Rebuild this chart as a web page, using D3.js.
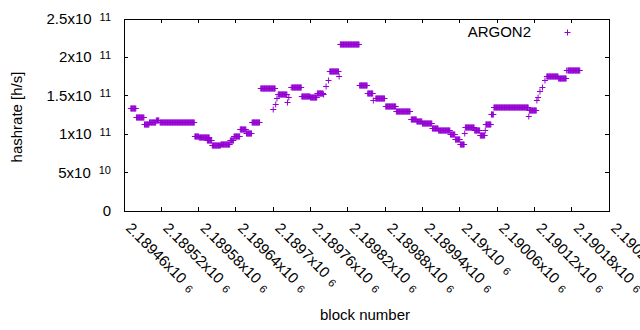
<!DOCTYPE html>
<html>
<head>
<meta charset="utf-8">
<script src="https://cdn.jsdelivr.net/npm/d3@7"></script>
<style>
  body { margin: 0; background: #fff; }
  svg { display: block; font-family: "Liberation Sans", Arial, sans-serif; }
</style>
</head>
<body>
<svg id="chart" width="640" height="330"></svg>
<script>
// runs of consecutive blocks sharing one hashrate value
let runStart = [
  2189471, 2189480, 2189493, 2189501, 2189512, 2189518, 2189574, 2189581, 2189594,
  2189602, 2189616, 2189631, 2189637, 2189647, 2189657, 2189666, 2189680, 2189700,
  2189704, 2189706, 2189708, 2189723, 2189725, 2189729, 2189731, 2189746, 2189760,
  2189771, 2189781, 2189785, 2189789, 2189791, 2189806, 2189808, 2189839, 2189852,
  2189861, 2189865, 2189881, 2189898, 2189922, 2189931, 2189940, 2189956, 2189966,
  2189985, 2189993, 2190001, 2190008, 2190009, 2190024, 2190033, 2190041, 2190042,
  2190051, 2190055, 2190111, 2190112, 2190124, 2190126, 2190129, 2190133, 2190137,
  2190140, 2190159, 2190172, 2190174
]
let runEnd = [
  2189479, 2189492, 2189500, 2189511, 2189516, 2189573, 2189580, 2189597, 2189601,
  2189615, 2189630, 2189636, 2189646, 2189656, 2189665, 2189678, 2189703, 2189700,
  2189704, 2189706, 2189722, 2189723, 2189725, 2189729, 2189745, 2189759, 2189770,
  2189780, 2189781, 2189785, 2189789, 2189805, 2189806, 2189838, 2189851, 2189860,
  2189861, 2189879, 2189897, 2189920, 2189930, 2189939, 2189955, 2189965, 2189984,
  2189992, 2190000, 2190007, 2190008, 2190023, 2190032, 2190040, 2190041, 2190050,
  2190054, 2190110, 2190111, 2190123, 2190124, 2190126, 2190129, 2190133, 2190137,
  2190158, 2190171, 2190172, 2190193
]
let runHashrate = [
  1.34e11, 1.22e11, 1.135e11, 1.155e11, 1.19e11, 1.16e11, 0.975e11, 0.96e11, 0.93e11,
  0.86e11, 0.875e11, 0.92e11, 0.98e11, 1.07e11, 1.01e11, 1.155e11, 1.6e11, 1.33e11,
  1.39e11, 1.47e11, 1.52e11, 1.42e11, 1.49e11, 1.61e11, 1.62e11, 1.50e11, 1.48e11,
  1.54e11, 1.52e11, 1.63e11, 1.71e11, 1.82e11, 1.76e11, 2.18e11, 1.64e11, 1.53e11,
  1.445e11, 1.47e11, 1.365e11, 1.30e11, 1.20e11, 1.17e11, 1.14e11, 1.08e11, 1.05e11,
  1.0e11, 0.94e11, 0.87e11, 1.02e11, 1.09e11, 1.06e11, 0.99e11, 1.055e11, 1.13e11,
  1.26e11, 1.36e11, 1.24e11, 1.31e11, 1.445e11, 1.48e11, 1.567e11, 1.62e11, 1.706e11,
  1.762e11, 1.736e11, 1.836e11, 1.832e11
]

let xTicks = [2189460, 2189520, 2189580, 2189640, 2189700, 2189760, 2189820,
  2189880, 2189940, 2190000, 2190060, 2190120, 2190180, 2190240]
let xTickLabels = ["2.18946", "2.18952", "2.18958", "2.18964", "2.1897", "2.18976", "2.18982",
  "2.18988", "2.18994", "2.19", "2.19006", "2.19012", "2.19018", "2.19024"]
let yTicks = [0, 5e10, 1e11, 1.5e11, 2e11, 2.5e11]
let yTickLabels = [["0", ""], ["5", "10"], ["1", "11"], ["1.5", "11"], ["2", "11"], ["2.5", "11"]]

let color = "#9400d3"

let svg = d3.select("#chart")
let plotLeft = 124, plotRight = 609, plotTop = 19, plotBottom = 211

let x = d3.scaleLinear().domain([2189460, 2190240]).range([plotLeft, plotRight])
let y = d3.scaleLinear().domain([0, 2.5e11]).range([plotBottom, plotTop])

// expand each run into one point per block
let points = []
runStart.forEach((s, i) => {
  for (let b = s; b <= runEnd[i]; b++) points.push({block: b, rate: runHashrate[i]})
})

let plus = "M-3,0H3M0,-3V3"

svg.append("g").selectAll("path")
  .data(points).enter()
  .append("path")
  .attr("transform", d => `translate(${x(d.block)},${Math.round(y(d.rate)) + 0.5})`)
  .attr("d", plus)
  .attr("stroke", color)
  .attr("stroke-width", 1)
  .attr("fill", "none")

// frame and ticks (gnuplot style, mirrored, inward)
let axes = svg.append("g").attr("stroke", "#000").attr("stroke-width", 1).attr("shape-rendering", "crispEdges")
xTicks.forEach(t => {
  axes.append("line").attr("x1", x(t)).attr("x2", x(t)).attr("y1", plotBottom).attr("y2", plotBottom - 4)
  axes.append("line").attr("x1", x(t)).attr("x2", x(t)).attr("y1", plotTop).attr("y2", plotTop + 4)
})
yTicks.forEach(t => {
  axes.append("line").attr("x1", plotLeft).attr("x2", plotLeft + 4).attr("y1", y(t)).attr("y2", y(t))
  axes.append("line").attr("x1", plotRight).attr("x2", plotRight - 4).attr("y1", y(t)).attr("y2", y(t))
})
axes.append("rect").attr("x", plotLeft).attr("y", plotTop)
  .attr("width", plotRight - plotLeft).attr("height", plotBottom - plotTop).attr("fill", "none")

function sci(text, mant, exp, dx, dy) {
  if (!exp) { text.text(mant); return }
  text.append("tspan").text(mant + "x10")
  text.append("tspan").attr("dx", dx).attr("dy", dy).attr("font-size", 11).text(exp)
}

yTicks.forEach((t, i) => {
  let lab = svg.append("text")
    .attr("x", 111).attr("y", y(t) + 5)
    .attr("text-anchor", "end").attr("font-size", 15).attr("fill", "#000")
  sci(lab, yTickLabels[i][0], yTickLabels[i][1], 8, -3.5)
})

xTicks.forEach((t, i) => {
  let lab = svg.append("text")
    .attr("transform", `translate(${x(t) + 1},229) rotate(45)`)
    .attr("font-size", 15).attr("fill", "#000")
  sci(lab, xTickLabels[i], "6", 6, 1)
})

svg.append("text")
  .attr("transform", "translate(22,117) rotate(-90)")
  .attr("text-anchor", "middle").attr("font-size", 15)
  .text("hashrate [h/s]")

svg.append("text")
  .attr("x", 365).attr("y", 320)
  .attr("text-anchor", "middle").attr("font-size", 15)
  .text("block number")

// legend
svg.append("text")
  .attr("x", 531).attr("y", 37)
  .attr("text-anchor", "end").attr("font-size", 15)
  .text("ARGON2")
svg.append("path")
  .attr("transform", "translate(567.5,32.5)")
  .attr("d", plus)
  .attr("stroke", color).attr("fill", "none")
</script>
</body>
</html>
